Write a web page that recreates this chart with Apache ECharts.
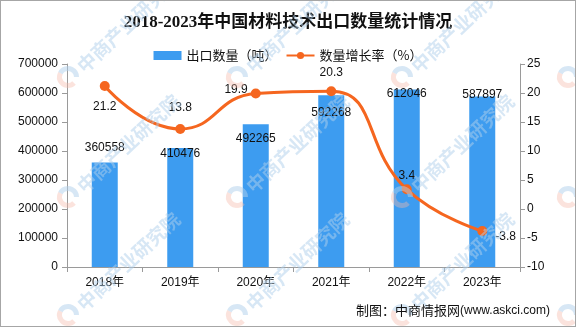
<!DOCTYPE html>
<html>
<head>
<meta charset="utf-8">
<script src="https://cdn.jsdelivr.net/npm/echarts@6/dist/echarts.min.js"></script>
<style>
  html, body { margin: 0; padding: 0; background: #fff; }
  #wrap { position: relative; width: 576px; height: 327px; }
  #chart { width: 576px; height: 327px; }
  #frame { position: absolute; left: 0; top: 0; width: 576px; height: 327px;
           box-sizing: border-box; border: 1px solid #a6a6a6; pointer-events: none; }
</style>
</head>
<body>
<div id="wrap"><div id="chart"></div><div id="frame"></div></div>
<script>
// Export volume of material technologies, 2018-2023
const years = ['2018年', '2019年', '2020年', '2021年', '2022年', '2023年'];
const exportTons = [360558, 410476, 492265, 592268, 612046, 587897];
const growthPct = [21.2, 13.8, 19.9, 20.3, 3.4, -3.8];

// Axis ranges
const tonAxis = { min: 0, max: 700000, interval: 100000 };
const pctAxis = { min: -10, max: 25, interval: 5 };

// Label placement tweaks (kept apart from the values)
const barLabelNudge = [-4, 17, 25, 28, 15, 9];
const growthLabelPlace = [
  { position: 'bottom', distance: 10 },
  { position: 'top', distance: 10 },
  { position: 'left', distance: 3, offset: [0, -4] },
  { position: 'top', distance: 8 },
  { position: 'top', distance: 3 },
  { position: 'right', distance: 8, offset: [0, 6] }
];

const BAR = '#3d9cf0';
const LINE = '#f5661f';
const AXIS = '#9a9a9a';
const NUM_FONT = '"Liberation Sans", "Noto Sans CJK SC", sans-serif';
const CJK_FONT = '"Noto Sans CJK SC", sans-serif';

// Faint diagonal brand marks tiled over the canvas
const markCols = [68, 237, 402, 568];
const markRows = [77, 197, 315];
const watermark = [];
markRows.forEach(function (cy) {
  markCols.forEach(function (cx) {
    watermark.push({
      type: 'sector', silent: true, z: 100,
      shape: { cx: cx, cy: cy, r: 11, r0: 6, startAngle: Math.PI * 0.25, endAngle: Math.PI * 1.15 },
      style: { fill: 'rgba(245,185,170,0.4)' }
    });
    watermark.push({
      type: 'sector', silent: true, z: 100,
      shape: { cx: cx, cy: cy, r: 11, r0: 6, startAngle: Math.PI * 1.15, endAngle: Math.PI * 2.0 },
      style: { fill: 'rgba(175,208,236,0.5)' }
    });
    watermark.push({
      type: 'text', silent: true, z: 100,
      x: cx + 12, y: cy - 8, rotation: Math.PI * 0.24,
      style: {
        text: '中商产业研究院', fill: 'rgba(175,208,236,0.5)',
        font: 'bold 19px "Noto Sans CJK SC", sans-serif',
        textAlign: 'left', textVerticalAlign: 'middle'
      }
    });
  });
});

const plainNumber = function (v) { return String(v); };

const chart = echarts.init(document.getElementById('chart'), null, { renderer: 'canvas' });

chart.setOption({
  backgroundColor: '#ffffff',
  animation: false,
  title: {
    text: '2018-2023年中国材料技术出口数量统计情况',
    left: 'center', top: 9,
    textStyle: {
      fontFamily: '"Liberation Serif", "Noto Sans CJK SC", serif',
      fontWeight: 'bold', fontSize: 17, color: '#111'
    }
  },
  legend: {
    top: 44, left: 'center',
    itemGap: 8, itemWidth: 28, itemHeight: 9,
    textStyle: { fontFamily: CJK_FONT, fontSize: 13, color: '#111' },
    data: [
      { name: '出口数量（吨）', icon: 'rect' },
      { name: '数量增长率（%）' }
    ]
  },
  grid: { left: 67, right: 56, top: 64, bottom: 60 },
  xAxis: {
    type: 'category',
    data: years,
    boundaryGap: true,
    axisLine: { lineStyle: { color: AXIS, width: 1 } },
    axisTick: { show: true, length: 5, alignWithLabel: false, lineStyle: { color: AXIS } },
    axisLabel: { color: '#111', fontFamily: NUM_FONT, fontSize: 12, margin: 10 }
  },
  yAxis: [
    {
      type: 'value', min: tonAxis.min, max: tonAxis.max, interval: tonAxis.interval,
      axisLine: { show: true, lineStyle: { color: AXIS } },
      axisTick: { show: true, length: 5, lineStyle: { color: AXIS } },
      splitLine: { show: false },
      axisLabel: { color: '#111', fontFamily: NUM_FONT, fontSize: 12, margin: 9, formatter: plainNumber }
    },
    {
      type: 'value', min: pctAxis.min, max: pctAxis.max, interval: pctAxis.interval,
      axisLine: { show: true, lineStyle: { color: AXIS } },
      axisTick: { show: true, length: 5, lineStyle: { color: AXIS } },
      splitLine: { show: false },
      axisLabel: { color: '#111', fontFamily: NUM_FONT, fontSize: 12, margin: 7, formatter: plainNumber }
    }
  ],
  series: [
    {
      name: '出口数量（吨）',
      type: 'bar',
      yAxisIndex: 0,
      barWidth: 26,
      itemStyle: { color: BAR },
      label: {
        show: true, position: 'top', distance: 5,
        color: '#111', fontFamily: NUM_FONT, fontSize: 12
      },
      data: exportTons.map(function (v, i) {
        return { value: v, label: { offset: [0, barLabelNudge[i]] } };
      })
    },
    {
      name: '数量增长率（%）',
      type: 'line',
      yAxisIndex: 1,
      smooth: 0.5,
      symbol: 'circle',
      symbolSize: 10,
      lineStyle: { color: LINE, width: 3 },
      itemStyle: { color: LINE },
      label: { show: true, color: '#111', fontFamily: NUM_FONT, fontSize: 12 },
      z: 5,
      data: growthPct.map(function (v, i) {
        return { value: v, label: growthLabelPlace[i] };
      })
    }
  ],
  graphic: watermark.concat([
    {
      type: 'text', z: 110, right: 26, top: 304,
      style: {
        text: '{a|制图：中商情报网}{b|(www.askci.com)}',
        rich: {
          a: { fontFamily: CJK_FONT, fontSize: 13, fill: '#111', fontWeight: 'normal' },
          b: { fontFamily: NUM_FONT, fontSize: 12, fill: '#111' }
        }
      }
    }
  ])
});
</script>
</body>
</html>
